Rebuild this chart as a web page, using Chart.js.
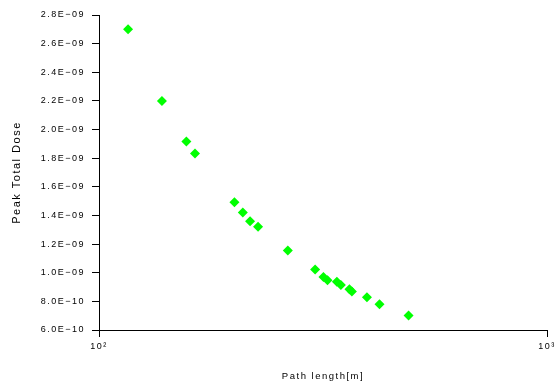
<!DOCTYPE html>
<html>
<head>
<meta charset="utf-8">
<script src="https://cdn.jsdelivr.net/npm/chart.js@4/dist/chart.umd.min.js"></script>
<style>
  html, body { margin: 0; padding: 0; background: #fff; }
  canvas { display: block; }
</style>
</head>
<body>
<canvas id="doseChart" width="558" height="387"></canvas>
<script>
// path length [m] vs peak total dose
const pathLength = [116.1, 138.2, 156.7, 163.8, 200.6, 209.4, 217.4, 226.5, 263.9, 303.7,
                    316.9, 323.6, 339.6, 346.7, 362.3, 366.8, 396.3, 422.8, 490.9];
const peakDose = [2.70e-9, 2.20e-9, 1.917e-9, 1.833e-9, 1.492e-9, 1.420e-9, 1.360e-9, 1.321e-9, 1.155e-9, 1.023e-9,
                  0.970e-9, 0.947e-9, 0.937e-9, 0.915e-9, 0.884e-9, 0.869e-9, 0.829e-9, 0.780e-9, 0.702e-9];

const xTicks = [100, 1000];
const xTickLabels = ["10²", "10³"];
const yTicks = [6e-10, 8e-10, 1.0e-9, 1.2e-9, 1.4e-9, 1.6e-9, 1.8e-9, 2.0e-9, 2.2e-9, 2.4e-9, 2.6e-9, 2.8e-9];
const yTickLabels = ["6.0E−10", "8.0E−10", "1.0E−09", "1.2E−09", "1.4E−09", "1.6E−09",
                     "1.8E−09", "2.0E−09", "2.2E−09", "2.4E−09", "2.6E−09", "2.8E−09"];

const fontFamily = '"Liberation Sans", Arial, sans-serif';

// the original text looks a bit stretched out
const spacingPlugin = {
    id: "spacing",
    beforeDraw(chart) { chart.ctx.letterSpacing = "1.5px"; },
    afterDraw(chart) { chart.ctx.letterSpacing = "0px"; }
};

const points = pathLength.map((x, i) => ({x: x, y: peakDose[i]}));

new Chart(document.getElementById("doseChart").getContext("2d"), {
    type: "scatter",
    data: {
        datasets: [{
            data: points,
            pointStyle: "rectRot",
            pointRadius: 5,
            backgroundColor: "#00ff00",
            borderColor: "#00ff00",
            borderWidth: 0
        }]
    },
    options: {
        responsive: false,
        animation: false,
        layout: {padding: {top: 15, right: 11, bottom: 0, left: 0}},
        plugins: {legend: {display: false}, tooltip: {enabled: false}},
        scales: {
            x: {
                type: "logarithmic",
                min: 100,
                max: 1000,
                afterBuildTicks: scale => { scale.ticks = xTicks.map(v => ({value: v})); },
                afterFit: scale => { scale.height = 57; },
                grid: {drawOnChartArea: false, drawTicks: true, tickLength: 7, color: "#000"},
                border: {display: true, color: "#000", width: 1},
                ticks: {
                    color: "#000",
                    font: {family: fontFamily, size: 9},
                    padding: 4,
                    maxRotation: 0,
                    callback: (v, i) => xTickLabels[i]
                },
                title: {
                    display: true,
                    text: "Path length[m]",
                    color: "#000",
                    font: {family: fontFamily, size: 9.5},
                    padding: {top: 0, bottom: 5}
                }
            },
            y: {
                type: "linear",
                min: 6e-10,
                max: 2.8e-9,
                afterBuildTicks: scale => { scale.ticks = yTicks.map(v => ({value: v})); },
                afterFit: scale => { scale.width = 99; },
                grid: {drawOnChartArea: false, drawTicks: true, tickLength: 7, color: "#000"},
                border: {display: true, color: "#000", width: 1},
                ticks: {
                    color: "#000",
                    font: {family: fontFamily, size: 9},
                    padding: 7,
                    callback: (v, i) => yTickLabels[i]
                },
                title: {
                    display: true,
                    text: "Peak Total Dose",
                    color: "#000",
                    font: {family: fontFamily, size: 11},
                    padding: {top: 10, bottom: 0}
                }
            }
        }
    },
    plugins: [spacingPlugin]
});
</script>
</body>
</html>
